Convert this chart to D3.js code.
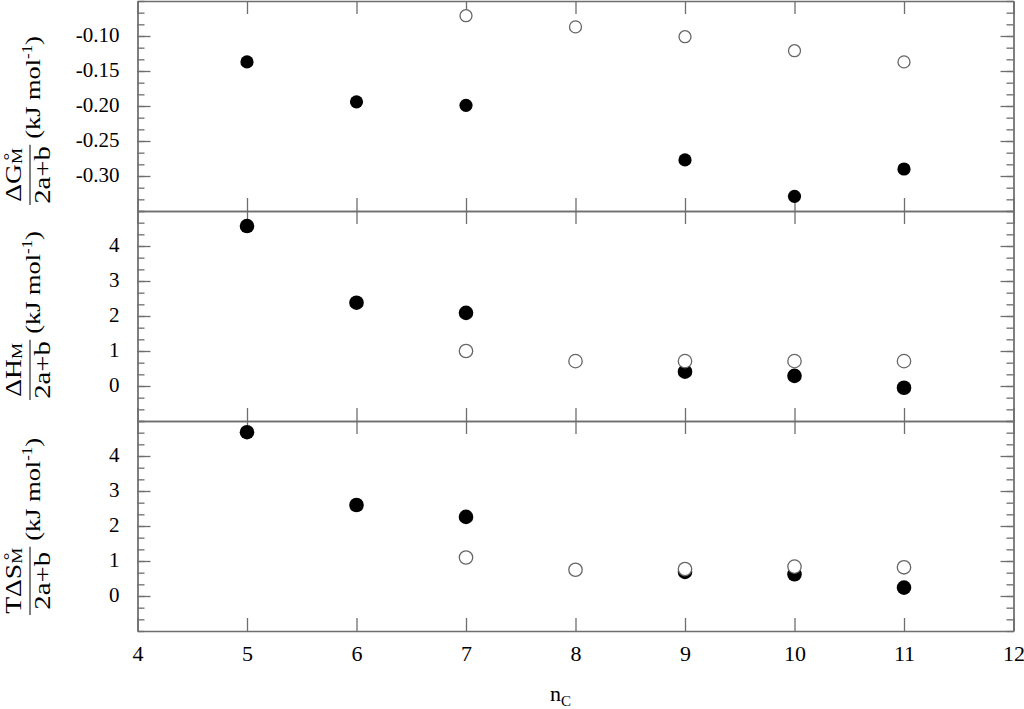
<!DOCTYPE html>
<html>
<head>
<meta charset="utf-8">
<script src="https://cdn.jsdelivr.net/npm/d3@7"></script>
<style>
  body { margin: 0; background: #fff; }
  svg { display: block; }
  svg text { font-family: "Liberation Serif", "Times New Roman", Times, serif; }
  .axis path, .axis line { stroke: #6e6e6e; stroke-width: 1.3; }
  .axis text { fill: #000; font-size: 21px; }
</style>
</head>
<body>
<svg width="1024" height="709"></svg>
<script>
// x values (number of carbons)
let nC = [5, 6, 7, 8, 9, 10, 11];
let nCOpen = [7, 8, 9, 10, 11];
let nCFilled = [5, 6, 7, 9, 10, 11];

// dG / (2a+b), kJ/mol
let dGFilled = [-0.137, -0.194, -0.199, -0.277, -0.329, -0.290];
let dGOpen = [-0.071, -0.087, -0.101, -0.121, -0.137];
// dH / (2a+b)
let dHFilled = [4.57, 2.38, 2.09, 0.41, 0.29, -0.05];
let dHOpen = [1.00, 0.71, 0.71, 0.71, 0.71];
// TdS / (2a+b)
let tdSFilled = [4.68, 2.60, 2.26, 0.69, 0.62, 0.24];
let tdSOpen = [1.10, 0.75, 0.77, 0.84, 0.82];

// ticks
let xTicks = [4, 5, 6, 7, 8, 9, 10, 11, 12];
let gTicks = [-0.30, -0.25, -0.20, -0.15, -0.10];
let hTicks = [0, 1, 2, 3, 4];

let svg = d3.select('svg');
let left = 137.5, right = 1013.5;
let x = d3.scaleLinear().domain([4, 12]).range([left, right]);
// plain hyphen instead of the unicode minus
let hy = f => (d => f(d).replace('\u2212', '-'));

let panels = [
  { top: 1, bottom: 211, domain: [-0.35, -0.05], ticks: gTicks, step: 0.05, fmt: hy(d3.format('.2f')),
    filled: dGFilled, open: dGOpen, r: 6.6, num: 'ΔG', deg: true, labelStart: 205 },
  { top: 211, bottom: 421, domain: [-1, 5], ticks: hTicks, step: 1, fmt: hy(d3.format('d')),
    filled: dHFilled, open: dHOpen, r: 7.3, num: 'ΔH', deg: false, labelStart: 400 },
  { top: 421, bottom: 631, domain: [-1, 5], ticks: hTicks, step: 1, fmt: hy(d3.format('d')),
    filled: tdSFilled, open: tdSOpen, r: 7.3, num: 'TΔS', deg: true, labelStart: 615 }
];

panels.forEach((p, pi) => {
  let y = d3.scaleLinear().domain(p.domain).range([p.bottom, p.top]);
  let minor = d3.range(p.domain[0], p.domain[1] + p.step / 6, p.step / 3);

  // minor ticks left / right
  svg.append('g').attr('class', 'axis')
    .attr('transform', `translate(${left},0)`)
    .call(d3.axisLeft(y).tickValues(minor).tickSize(-7).tickSizeOuter(0).tickFormat(''));
  svg.append('g').attr('class', 'axis')
    .attr('transform', `translate(${right},0)`)
    .call(d3.axisRight(y).tickValues(minor).tickSize(-7).tickSizeOuter(0).tickFormat(''));

  // major ticks with labels
  svg.append('g').attr('class', 'axis')
    .attr('transform', `translate(${left},0)`)
    .call(d3.axisLeft(y).tickValues(p.ticks).tickSize(-13).tickSizeOuter(0)
      .tickPadding(18).tickFormat(p.fmt))
    .selectAll('text').attr('dy', '0.26em');
  svg.append('g').attr('class', 'axis')
    .attr('transform', `translate(${right},0)`)
    .call(d3.axisRight(y).tickValues(p.ticks).tickSize(-13).tickSizeOuter(0).tickFormat(''));

  // x ticks top and bottom of the panel, pointing inward
  svg.append('g').attr('class', 'axis')
    .attr('transform', `translate(0,${p.top})`)
    .call(d3.axisTop(x).tickValues(xTicks).tickSize(-13).tickSizeOuter(0).tickFormat(''));
  let xb = svg.append('g').attr('class', 'axis')
    .attr('transform', `translate(0,${p.bottom})`)
    .call(d3.axisBottom(x).tickValues(xTicks).tickSize(-13).tickSizeOuter(0)
      .tickPadding(12).tickFormat(pi === 2 ? d3.format('d') : ''));
  xb.selectAll('text').style('font-size', '22px').attr('dy', '0.8em');

  // points: filled first, open on top
  svg.append('g').selectAll('circle')
    .data(p.filled).enter().append('circle')
    .attr('cx', (d, i) => x(nCFilled[i]))
    .attr('cy', d => y(d))
    .attr('r', p.r)
    .attr('fill', '#000');
  svg.append('g').selectAll('circle')
    .data(p.open).enter().append('circle')
    .attr('cx', (d, i) => x(nCOpen[i]))
    .attr('cy', d => y(d))
    .attr('r', p.r - 0.6)
    .attr('fill', '#fff')
    .attr('stroke', '#666')
    .attr('stroke-width', 1.3);

  // y label: rotated fraction + units
  let lab = svg.append('g')
    .attr('transform', `translate(0,${p.labelStart}) scale(1,1.2) rotate(-90)`);
  let numT = lab.append('text').attr('y', 21).style('font-size', '23px');
  let big = numT.append('tspan').text(p.num);
  numT.append('tspan').text('M').style('font-size', '15px').attr('dy', 1);
  let den = lab.append('text').attr('y', 50).style('font-size', '24px').text('2a+b');
  let nw = numT.node().getComputedTextLength();
  let dw = den.node().getComputedTextLength();
  let fw = Math.max(nw, dw) + 2;
  numT.attr('x', (fw - nw) / 2);
  den.attr('x', (fw - dw) / 2);
  if (p.deg) {
    let mStart = (fw - nw) / 2 + big.node().getComputedTextLength();
    lab.append('text').attr('x', mStart + 3).attr('y', 15).style('font-size', '16px').text('°');
  }
  lab.append('line').attr('x1', 0).attr('x2', fw).attr('y1', 30).attr('y2', 30)
    .attr('stroke', '#000').attr('stroke-width', 1);
  let units = lab.append('text').attr('x', fw + 5).attr('y', 40).style('font-size', '22px');
  units.append('tspan').text('(kJ mol');
  units.append('tspan').text('-1').style('font-size', '14px').attr('dy', -8);
  units.append('tspan').text(')').attr('dy', 8);
});

// x axis title
let xt = svg.append('text').attr('x', 550).attr('y', 701).style('font-size', '22px');
xt.append('tspan').text('n');
xt.append('tspan').text('C').style('font-size', '15px').attr('dy', 5);
</script>
</body>
</html>
